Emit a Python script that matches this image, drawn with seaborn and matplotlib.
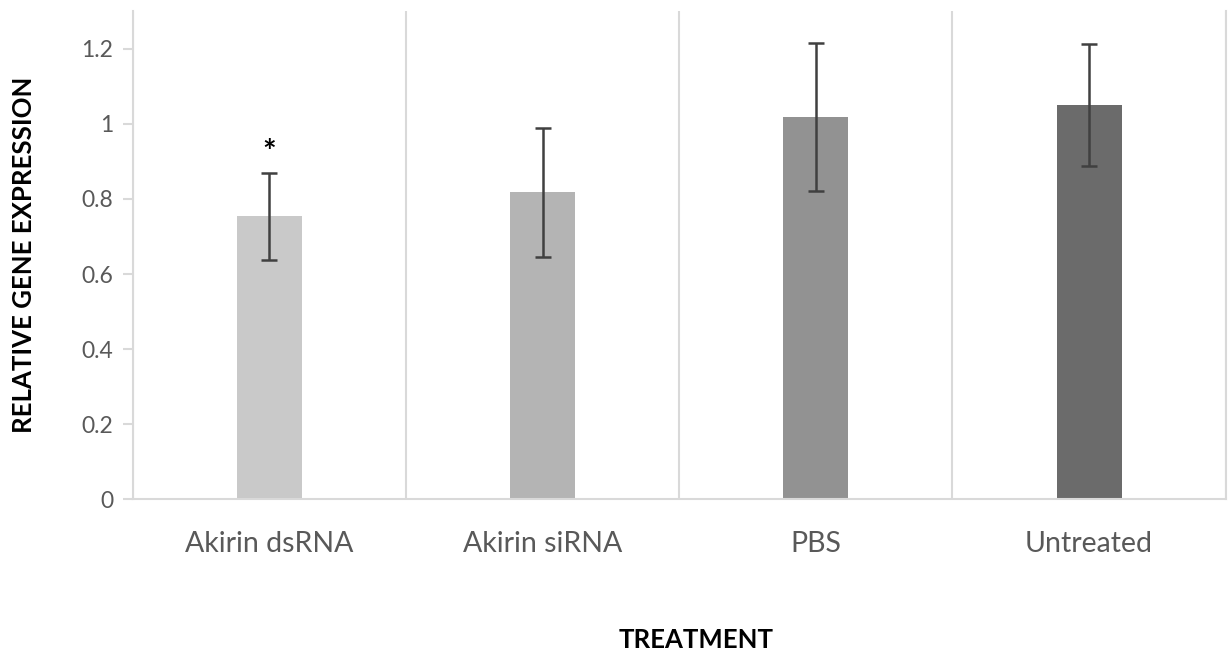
import matplotlib
matplotlib.use("Agg")
import matplotlib.pyplot as plt
import seaborn as sns
import pandas as pd

treatments = ["Akirin dsRNA", "Akirin siRNA", "PBS", "Untreated"]
expression = [0.754, 0.817, 1.019, 1.049]
sem = [0.116, 0.172, 0.197, 0.162]
bar_colors = ["#c9c9c9", "#b4b4b4", "#929292", "#6b6b6b"]
significance = ["*", "", "", ""]
y_ticks = [0, 0.2, 0.4, 0.6, 0.8, 1.0, 1.2]
y_tick_labels = ["0", "0.2", "0.4", "0.6", "0.8", "1", "1.2"]

sns.set_theme(style="white")
plt.rcParams["font.family"] = ["Lato", "DejaVu Sans"]

df = pd.DataFrame({"treatment": treatments, "expression": expression})

fig = plt.figure(figsize=(12.28, 6.53), dpi=100)
ax = fig.add_axes([0.1081, 0.2351, 0.8900, 0.7481])

sns.barplot(data=df, x="treatment", y="expression", hue="treatment",
            palette=bar_colors, order=treatments, hue_order=treatments,
            width=0.238, errorbar=None, legend=False, ax=ax, linewidth=0)

# error bars centred on each bar
for patch, val, err, mark in zip(ax.patches, expression, sem, significance):
    cx = patch.get_x() + patch.get_width() / 2
    ax.errorbar(cx, val, yerr=err, fmt="none", ecolor="#404040",
                elinewidth=1.8, capsize=6, capthick=1.8, zorder=5)
    if mark:
        ax.text(cx, val + err + 0.012, mark, ha="center", va="bottom",
                fontsize=23, fontweight="bold", color="black")

ax.set_ylim(0, 1.3)
ax.set_xlim(-0.5, len(treatments) - 0.5)
ax.set_yticks(y_ticks)
ax.set_yticklabels(y_tick_labels)

# category separators
ax.set_xticks([i + 0.5 for i in range(-1, len(treatments))], minor=True)
ax.grid(False)
ax.grid(True, which="minor", axis="x", color="#d9d9d9", linewidth=1.5)
ax.set_axisbelow(True)

ax.spines["top"].set_visible(False)
for side in ["left", "bottom", "right"]:
    ax.spines[side].set_color("#d9d9d9")
    ax.spines[side].set_linewidth(1.5)

ax.tick_params(axis="y", which="major", left=True, length=7, width=1.5,
               color="#d9d9d9", labelsize=16.5, labelcolor="#595959", pad=7)
ax.tick_params(axis="x", which="major", bottom=False, labelsize=20.5,
               labelcolor="#595959", pad=17)
ax.tick_params(axis="x", which="minor", bottom=False)

ax.set_xlabel("TREATMENT", fontsize=18.5, fontweight="bold", color="black")
ax.xaxis.label.set_va("center")
ax.xaxis.set_label_coords(0.5154, -0.2876)
ax.set_ylabel("RELATIVE GENE EXPRESSION", fontsize=18.5, fontweight="bold",
              color="black")
ax.yaxis.label.set_va("center")
ax.yaxis.set_label_coords(-0.0995, 0.5)

fig.savefig("out.png", dpi=100)
